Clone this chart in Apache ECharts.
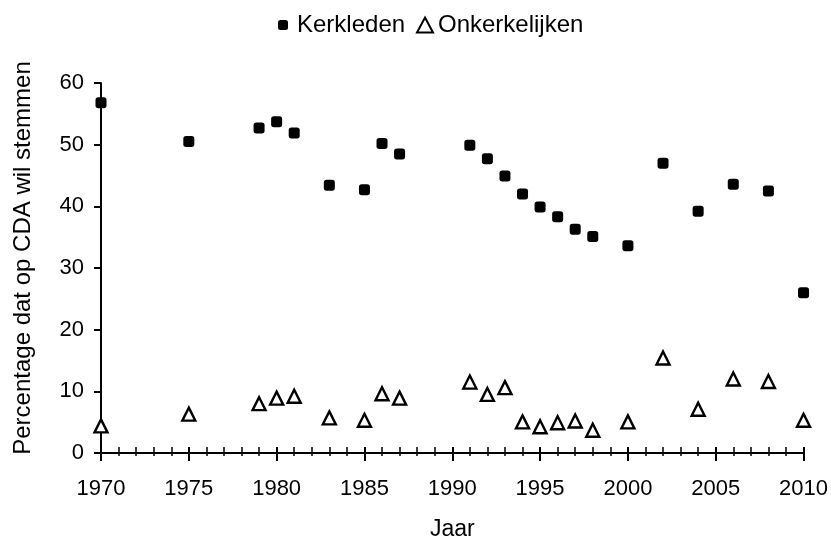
<!DOCTYPE html>
<html>
<head>
<meta charset="utf-8">
<script src="https://cdn.jsdelivr.net/npm/echarts@6/dist/echarts.min.js"></script>
<style>
html,body{margin:0;padding:0;background:#fff;}
#chart{width:831px;height:546px;}
</style>
</head>
<body>
<div id="chart"></div>
<script>
const years = [1970,1975,1979,1980,1981,1983,1985,1986,1987,1991,1992,1993,1994,1995,1996,1997,1998,2000,2002,2004,2006,2008,2010];
const kerkleden = [56.8,50.5,52.7,53.7,51.9,43.4,42.7,50.2,48.5,49.9,47.7,44.9,42.0,39.9,38.3,36.3,35.1,33.6,47.0,39.2,43.6,42.5,26.0];
const onkerkelijken = [4.4,6.3,8.0,8.9,9.2,5.7,5.3,9.6,8.9,11.5,9.5,10.6,5.05,4.25,4.9,5.2,3.7,5.05,15.4,7.1,12.0,11.6,5.3];
const seriesNames = ['Kerkleden','Onkerkelijken'];
const xTitle = 'Jaar';
const yTitle = 'Percentage dat op CDA wil stemmen';

const font = 'Liberation Sans, Arial, sans-serif';
const chart = echarts.init(document.getElementById('chart'), null, {renderer:'canvas'});
const pairs = vals => years.map((y,i)=>[y, vals[i]]);

chart.setOption({
  animation:false,
  backgroundColor:'#fff',
  textStyle:{fontFamily:font,color:'#000'},
  legend:[
    {data:[seriesNames[0]], left:278, top:13, padding:0, itemWidth:10, itemHeight:10, itemGap:0,
     textStyle:{fontFamily:font,fontSize:24,color:'#000',padding:[0,0,0,4]}},
    {data:[seriesNames[1]], left:416, top:13, padding:0, itemWidth:16, itemHeight:15, itemGap:0,
     textStyle:{fontFamily:font,fontSize:24,color:'#000'}}
  ],
  grid:{left:101,right:26,top:83,bottom:89,containLabel:false},
  xAxis:[
    {type:'value',min:1970,max:2010,interval:5,
     name:xTitle,nameLocation:'middle',nameGap:65,
     nameTextStyle:{fontFamily:font,fontSize:23,color:'#000'},
     axisLine:{show:true,onZero:false,lineStyle:{color:'#000',width:2}},
     axisTick:{show:true,length:8,lineStyle:{color:'#000',width:2}},
     minorTick:{show:true,splitNumber:5,length:3,lineStyle:{color:'#000',width:1.5}},
     axisLabel:{fontFamily:font,fontSize:22,color:'#000',margin:25,formatter:v=>String(v)},
     splitLine:{show:false},minorSplitLine:{show:false}},
    {type:'value',min:1970,max:2010,interval:5,position:'bottom',
     axisLine:{show:false,onZero:false},
     axisTick:{show:true,inside:true,length:6,lineStyle:{color:'#000',width:2}},
     minorTick:{show:true,splitNumber:5,length:6,lineStyle:{color:'#000',width:1.5}},
     axisLabel:{show:false},splitLine:{show:false}}
  ],
  yAxis:{type:'value',min:0,max:60,interval:10,
     name:yTitle,nameLocation:'middle',nameGap:66,
     nameTextStyle:{fontFamily:font,fontSize:24,color:'#000',padding:[0,0,0,20]},
     axisLine:{show:true,lineStyle:{color:'#000',width:2}},
     axisTick:{show:true,length:7,lineStyle:{color:'#000',width:2}},
     axisLabel:{fontFamily:font,fontSize:22,color:'#000',margin:17},
     splitLine:{show:false}},
  series:[
    {name:seriesNames[0],type:'scatter',symbol:'roundRect',symbolSize:11,
     itemStyle:{color:'#000',opacity:1},data:pairs(kerkleden),z:3},
    {name:seriesNames[1],type:'scatter',symbol:'triangle',symbolSize:[13,13],
     itemStyle:{color:'#fff',borderColor:'#000',borderWidth:2.4,opacity:1},data:pairs(onkerkelijken),z:3}
  ]
});
</script>
</body>
</html>
